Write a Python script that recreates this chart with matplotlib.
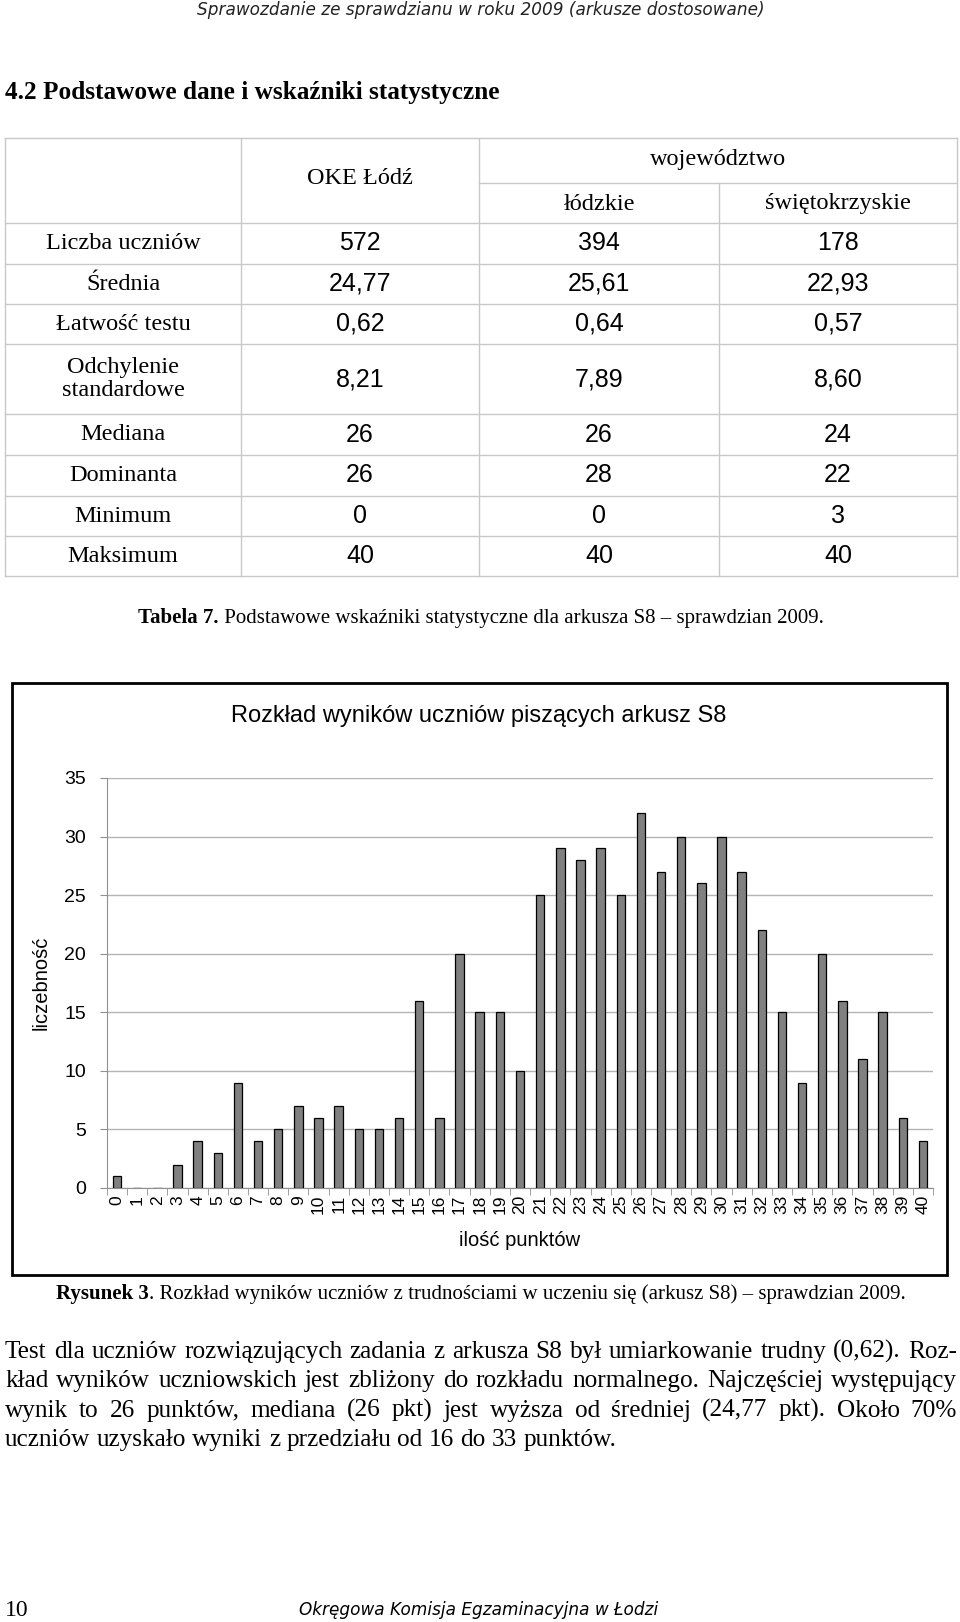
import numpy as np
import matplotlib
matplotlib.use("Agg")
from matplotlib import pyplot as plt
from matplotlib.patches import Rectangle

SERIF = "Liberation Serif"
SANS = "Liberation Sans"

# table data
row_labels = ["Liczba uczniów", "Średnia", "Łatwość testu", "Odchylenie\nstandardowe",
              "Mediana", "Dominanta", "Minimum", "Maksimum"]
oke_lodz = ["572", "24,77", "0,62", "8,21", "26", "26", "0", "40"]
lodzkie = ["394", "25,61", "0,64", "7,89", "26", "28", "0", "40"]
swietokrzyskie = ["178", "22,93", "0,57", "8,60", "24", "22", "3", "40"]

# histogram data
points = list(range(0, 41))
counts = [1, 0, 0, 2, 4, 3, 9, 4, 5, 7, 6, 7, 5, 5, 6, 16, 6, 20, 15, 15, 10,
          25, 29, 28, 29, 25, 32, 27, 30, 26, 30, 27, 22, 15, 9, 20, 16, 11, 15, 6, 4]

paragraph = [
    "Test dla uczniów rozwiązujących zadania z arkusza S8 był umiarkowanie trudny (0,62). Roz-",
    "kład wyników uczniowskich jest zbliżony do rozkładu normalnego. Najczęściej występujący",
    "wynik to 26 punktów, mediana (26 pkt) jest wyższa od średniej (24,77 pkt). Około 70%",
    "uczniów uzyskało wyniki z przedziału od 16 do 33 punktów.",
]

W, H = 960, 1622
fig = plt.figure(figsize=(W / 100, H / 100), dpi=100)
page = fig.add_axes([0, 0, 1, 1])
page.set_xlim(0, W)
page.set_ylim(H, 0)
page.axis("off")
renderer = fig.canvas.get_renderer()


def width_of(t):
    return t.get_window_extent(renderer=renderer).width


def justify(line, y, x0, x1, size, full=True):
    words = line.split(" ")
    texts = [page.text(x0, y, w, fontsize=size, family=SERIF, va="baseline", ha="left")
             for w in words]
    widths = [width_of(t) for t in texts]
    if full and len(words) > 1:
        gap = (x1 - x0 - sum(widths)) / (len(words) - 1)
    else:
        gap = size * 100 / 72 * 0.25
    x = x0
    for t, w in zip(texts, widths):
        t.set_x(x)
        x += w + gap


def caption(bold, rest, y, size):
    b = page.text(0, y, bold, fontsize=size, family=SERIF, weight="bold", va="baseline")
    r = page.text(0, y, rest, fontsize=size, family=SERIF, va="baseline")
    wb, wr = width_of(b), width_of(r)
    x0 = 481 - (wb + wr) / 2
    b.set_x(x0)
    r.set_x(x0 + wb)


# page header and section title
page.text(481, 10, "Sprawozdanie ze sprawdzianu w roku 2009 (arkusze dostosowane)",
          fontsize=12.2, family="DejaVu Sans", style="italic", color="#222222",
          ha="center", va="center")
page.text(5, 93, "4.2 Podstawowe dane i wskaźniki statystyczne", fontsize=18.2,
          family=SERIF, weight="bold", ha="left", va="center")

# table
col_x = [5, 241, 479, 719, 957]
row_y = [138, 223, 264, 304, 344, 414, 455, 496, 536, 576]
lc = "#c8c8c8"
for y in row_y:
    page.plot([col_x[0], col_x[-1]], [y, y], color=lc, lw=1)
page.plot([col_x[2], col_x[-1]], [183, 183], color=lc, lw=1)
for x in [col_x[0], col_x[1], col_x[2], col_x[4]]:
    page.plot([x, x], [row_y[0], row_y[-1]], color=lc, lw=1)
page.plot([col_x[3], col_x[3]], [183, row_y[-1]], color=lc, lw=1)

page.text((col_x[1] + col_x[2]) / 2, 178, "OKE Łódź", fontsize=17.5, family=SERIF,
          ha="center", va="center")
page.text((col_x[2] + col_x[4]) / 2, 160, "województwo", fontsize=17.5, family=SERIF,
          ha="center", va="center")
page.text((col_x[2] + col_x[3]) / 2, 204, "łódzkie", fontsize=17.5, family=SERIF,
          ha="center", va="center")
page.text((col_x[3] + col_x[4]) / 2, 204, "świętokrzyskie", fontsize=17.5, family=SERIF,
          ha="center", va="center")
for i, lab in enumerate(row_labels):
    yc = (row_y[i + 1] + row_y[i + 2]) / 2
    page.text((col_x[0] + col_x[1]) / 2, yc, lab, fontsize=17.5, family=SERIF,
              ha="center", va="center", linespacing=1.1)
    for j, col in enumerate([oke_lodz, lodzkie, swietokrzyskie]):
        page.text((col_x[j + 1] + col_x[j + 2]) / 2, yc, col[i], fontsize=18,
                  family=SANS, ha="center", va="center")

caption("Tabela 7.", " Podstawowe wskaźniki statystyczne dla arkusza S8 – sprawdzian 2009.",
        623, 15)

# chart frame
page.add_patch(Rectangle((12, 683), 935, 592, fill=False, lw=2, ec="black"))
page.text(479, 716, "Rozkład wyników uczniów piszących arkusz S8", fontsize=17,
          family=SANS, ha="center", va="center")

ax = fig.add_axes([107 / W, 1 - 1188 / H, (933 - 107) / W, (1188 - 778) / H])
ax.bar(points, counts, width=0.42, color="#808080", edgecolor="black", lw=0.9, zorder=3)
ax.set_xlim(-0.5, 40.5)
ax.set_ylim(0, 35)
ax.set_yticks(range(0, 36, 5))
ax.set_xticks(points)
ax.set_xticks(np.arange(-0.5, 41, 1), minor=True)
ax.set_xticklabels([str(p) for p in points], rotation=90, family=SANS, fontsize=12.5)
ax.tick_params(axis="x", which="major", length=0, pad=5)
ax.tick_params(axis="x", which="minor", length=5, color="#909090")
ax.tick_params(axis="y", length=5, color="#909090", labelsize=14, pad=10)
for lab in ax.get_yticklabels():
    lab.set_family(SANS)
ax.grid(axis="y", color="#b4b4b4", lw=1, zorder=0)
for s in ["top", "right"]:
    ax.spines[s].set_visible(False)
for s in ["left", "bottom"]:
    ax.spines[s].set_color("#909090")
ax.set_ylabel("liczebność", family=SANS, fontsize=14.5, labelpad=10)
ax.set_xlabel("ilość punktów", family=SANS, fontsize=14.5, labelpad=12)

caption("Rysunek 3", ". Rozkład wyników uczniów z trudnościami w uczeniu się (arkusz S8) – sprawdzian 2009.",
        1299, 15)

# paragraph
for k, line in enumerate(paragraph):
    justify(line, 1358 + k * 29.3, 5, 957, 18.2, full=(k < len(paragraph) - 1))

# footer
page.text(5, 1610, "10", fontsize=17, family=SERIF, ha="left", va="center")
page.text(479, 1610, "Okręgowa Komisja Egzaminacyjna w Łodzi", fontsize=12.2,
          family="DejaVu Sans", style="italic", ha="center", va="center")

fig.savefig("out.png", dpi=100)
